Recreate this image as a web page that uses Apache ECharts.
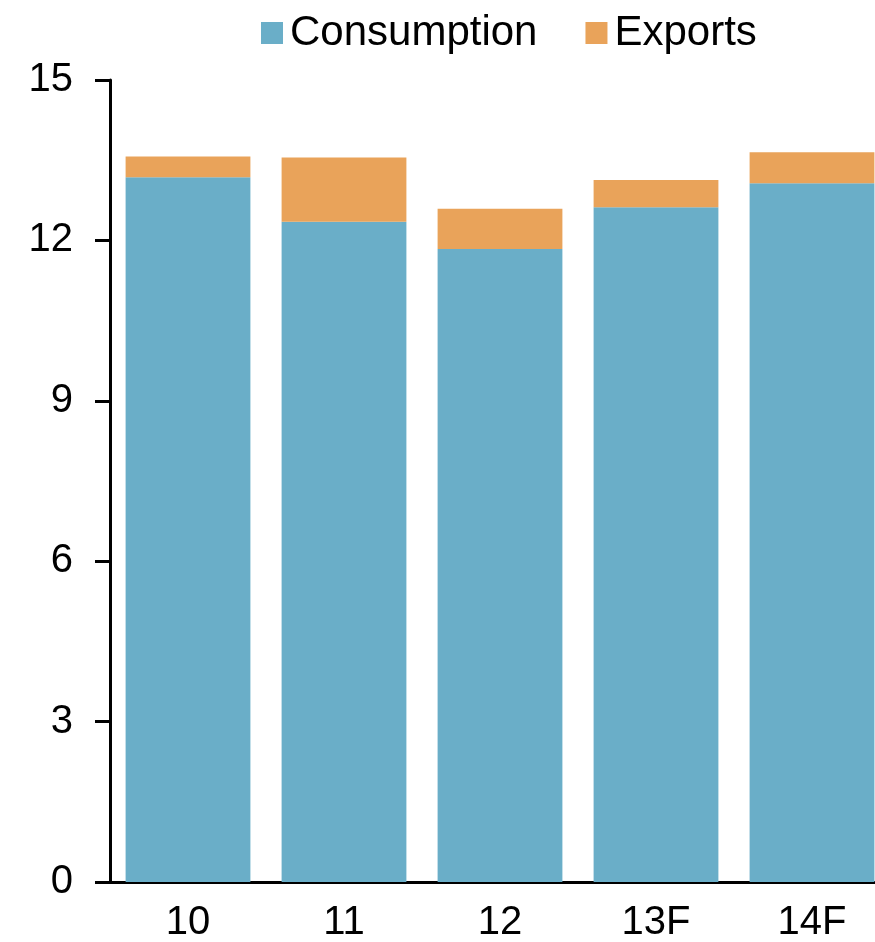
<!DOCTYPE html>
<html>
<head>
<meta charset="utf-8">
<script src="https://cdn.jsdelivr.net/npm/echarts@6/dist/echarts.min.js"></script>
<style>
  html, body { margin: 0; padding: 0; background: #ffffff; }
  #chart { width: 875px; height: 942px; }
</style>
</head>
<body>
<div id="chart"></div>
<script>
// Years (F = forecast)
const categories = ['10', '11', '12', '13F', '14F'];
// Stacked components
const consumption = [13.18, 12.35, 11.84, 12.62, 13.07];
const exports = [0.39, 1.20, 0.75, 0.51, 0.58];
// Value axis range and step
const yMin = 0, yMax = 15, yStep = 3;

const chart = echarts.init(document.getElementById('chart'));
const font = '"Liberation Sans", Arial, sans-serif';

chart.setOption({
  animation: false,
  legend: {
    left: 256,
    top: 7,
    itemWidth: 22,
    itemHeight: 22,
    itemGap: 48,
    icon: 'rect',
    textStyle: { fontFamily: font, fontSize: 42, color: '#000', padding: [0, 0, 0, 2] },
    data: ['Consumption', 'Exports']
  },
  // the last bar runs to the page edge, so the plot area extends past it
  grid: { left: 110, top: 80, right: -15, bottom: 60, containLabel: false, outerBoundsMode: 'none' },
  xAxis: {
    type: 'category',
    data: categories,
    axisLine: { lineStyle: { color: '#000', width: 3 } },
    axisTick: { show: false },
    axisLabel: { fontFamily: font, fontSize: 40, color: '#000', margin: 21 }
  },
  yAxis: {
    type: 'value',
    min: yMin,
    max: yMax,
    interval: yStep,
    axisLine: { show: true, lineStyle: { color: '#000', width: 3 } },
    axisTick: { show: true, length: 15, lineStyle: { color: '#000', width: 3 } },
    splitLine: { show: false },
    axisLabel: { fontFamily: font, fontSize: 40, color: '#000', margin: 37 }
  },
  series: [
    {
      name: 'Consumption',
      type: 'bar',
      stack: 'total',
      data: consumption,
      barCategoryGap: '20%',
      itemStyle: { color: '#6aaec8' }
    },
    {
      name: 'Exports',
      type: 'bar',
      stack: 'total',
      data: exports,
      barCategoryGap: '20%',
      itemStyle: { color: '#e9a35a' }
    }
  ]
});
</script>
</body>
</html>
